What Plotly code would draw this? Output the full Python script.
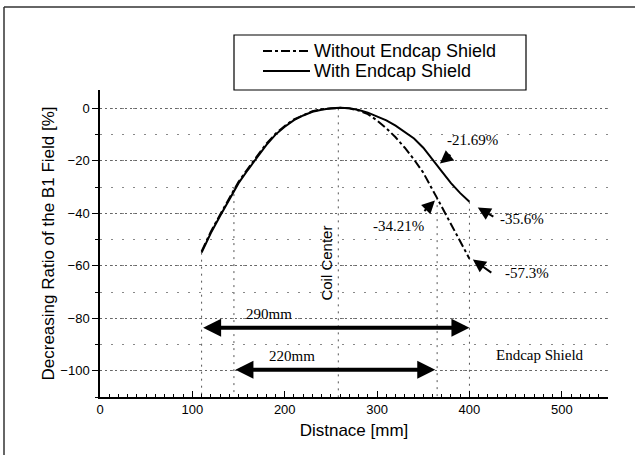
import plotly.graph_objects as go

# ---- data ----
dist_with = [110, 120, 130, 140, 150, 160, 170, 180, 190, 200, 210, 220, 230, 240, 250, 260, 270,
             280, 290, 300, 310, 320, 330, 340, 350, 360, 365, 370, 380, 390, 400]
ratio_with = [-55, -47.5, -41, -34.5, -28.5, -23.5, -18.5, -14, -10, -7, -4.5, -2.7, -1.3, -0.5, 0, 0.2, 0,
              -0.6, -1.6, -3, -4.6, -6.6, -8.9, -11.5, -15, -19.3, -21.69, -24, -28.5, -32.3, -35.6]

dist_without = [110, 120, 130, 140, 150, 160, 170, 180, 190, 200, 210, 220, 230, 240, 250, 260, 270,
                280, 290, 300, 310, 320, 330, 340, 350, 355, 360, 365, 370, 380, 390, 400]
ratio_without = [-54.5, -47, -40.5, -34, -28, -23, -18, -13.5, -9.7, -6.7, -4.2, -2.5, -1.1, -0.3, 0, 0.2, 0,
                 -0.8, -2.2, -4.6, -7.6, -11, -15, -19.5, -24.5, -27.5, -31, -34.21, -37.5, -44, -50.5, -57.3]

series_names = ["Without Endcap Shield", "With Endcap Shield"]

guide_x = [110, 145, 258, 365, 400]
guide_top = [-55, -30, 0, -34.21, -35.6]

span_290 = [110, 400]
span_220 = [145, 363]
span_y = [-83.6, -99.6]

x_ticks = [0, 100, 200, 300, 400, 500]
y_ticks = [-100, -80, -60, -40, -20, 0]

SANS = "Liberation Sans, Arial, sans-serif"
SERIF = "Liberation Serif, Times New Roman, serif"

fig = go.Figure()
fig.add_trace(go.Scatter(x=dist_without, y=ratio_without, mode="lines", name=series_names[0],
                         line=dict(color="black", width=2, dash="dashdot")))
fig.add_trace(go.Scatter(x=dist_with, y=ratio_with, mode="lines", name=series_names[1],
                         line=dict(color="black", width=2)))

W, H = 635, 455
L, R, T, B = 100, 27, 90, 58
pw, ph = W - L - R, H - T - B

def px(x):
    return (x - L) / pw

def py(y):
    return (H - B - y) / ph

# vertical dotted guide lines
for gx, gt in zip(guide_x, guide_top):
    fig.add_shape(type="line", x0=gx, x1=gx, y0=gt, y1=-110, xref="x", yref="y",
                  line=dict(color="#555", width=1, dash="2px,5px"), layer="below")

# outer frame (top and left)
fig.add_shape(type="line", xref="paper", yref="paper", x0=px(4), x1=px(635), y0=py(7), y1=py(7),
              line=dict(color="#333", width=1.5))
fig.add_shape(type="line", xref="paper", yref="paper", x0=px(4), x1=px(4), y0=py(7), y1=py(455),
              line=dict(color="#333", width=1.5))

# legend box drawn manually
fig.add_shape(type="rect", xref="paper", yref="paper", x0=px(234), x1=px(526), y0=py(90), y1=py(35),
              line=dict(color="black", width=1.2), fillcolor="white")
for name, dash, ry in zip(series_names, ["dashdot", "solid"], [51, 71]):
    fig.add_shape(type="line", xref="paper", yref="paper", x0=px(263), x1=px(310), y0=py(ry), y1=py(ry),
                  line=dict(color="black", width=2, dash=dash))
    fig.add_annotation(xref="paper", yref="paper", x=px(312), y=py(ry), text=name, showarrow=False,
                       xanchor="left", yanchor="middle", font=dict(family=SANS, size=18, color="black"))

# double arrows
for (xa, xb), yv in zip([span_290, span_220], span_y):
    fig.add_annotation(x=xb, y=yv, ax=xa, ay=yv, xref="x", yref="y", axref="x", ayref="y",
                       text="", showarrow=True, arrowhead=2, arrowside="end+start",
                       arrowwidth=4, arrowsize=0.9, arrowcolor="black", standoff=0, startstandoff=0)

# small pointer arrows: (head x, head y, tail x, tail y)
pointers = [(368, -21, 381, -17.2), (362.6, -35.1, 349.6, -39.7),
            (409, -37.8, 427.5, -41.6), (403.7, -57.6, 425.3, -63)]
for hx, hy, tx, ty in pointers:
    fig.add_annotation(x=hx, y=hy, ax=tx, ay=ty, xref="x", yref="y", axref="x", ayref="y",
                       text="", showarrow=True, arrowhead=2, arrowwidth=2, arrowsize=1.3,
                       arrowcolor="black", standoff=0)

labels = [("-21.69%", 403.7, -12.2), ("-34.21%", 323.6, -44.7), ("-35.6%", 456.7, -42),
          ("-57.3%", 462, -62.6), ("Endcap Shield", 476, -93.9), ("290mm", 183, -78.2),
          ("220mm", 208, -94.3)]
for t, x, y in labels:
    fig.add_annotation(x=x, y=y, xref="x", yref="y", text=t, showarrow=False,
                       font=dict(family=SERIF, size=15, color="black"))

fig.add_annotation(x=245.7, y=-58.8, xref="x", yref="y", text="Coil Center", showarrow=False,
                   textangle=-90, font=dict(family=SANS, size=15, color="black"))

fig.update_layout(
    width=W, height=H, margin=dict(l=L, r=R, t=T, b=B),
    paper_bgcolor="white", plot_bgcolor="white",
    font=dict(family=SANS, color="black"),
    showlegend=False,
    xaxis=dict(range=[0, 550], tickvals=x_ticks, showline=True, linecolor="black", linewidth=1.5,
               ticks="inside", ticklen=6, tickcolor="black", showgrid=False, zeroline=False,
               tickfont=dict(size=13, family=SANS),
               minor=dict(dtick=10, ticks="inside", ticklen=3, tickcolor="black", showgrid=False),
               title=dict(text="Distnace [mm]", font=dict(size=17, family=SANS), standoff=8)),
    yaxis=dict(range=[-110, 7], tickvals=y_ticks, showline=True, linecolor="black", linewidth=1.5,
               ticks="outside", ticklen=6, tickcolor="black", zeroline=False,
               showgrid=True, gridcolor="#666", griddash="2px,3px", gridwidth=1,
               tickfont=dict(size=13, family=SANS),
               minor=dict(dtick=10, ticks="outside", ticklen=3, tickcolor="black",
                          showgrid=True, gridcolor="#888", griddash="2px,9px", gridwidth=1),
               title=dict(text="Decreasing Ratio of the B1 Field [%]", font=dict(size=17, family=SANS),
                          standoff=1)),
)

fig.write_html("out.html")
